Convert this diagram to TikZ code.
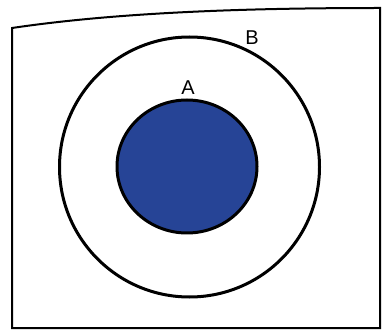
\documentclass[tikz,border=0pt]{standalone}
\usepackage{fontspec}
\setmainfont{Liberation Sans}
\usetikzlibrary{shapes.geometric}
\definecolor{setblue}{RGB}{38,68,150}
\tikzset{
  setline/.style={draw=black, line width=3pt, inner sep=0pt},
  lbl/.style={font=\fontsize{20}{20}\selectfont, inner sep=0pt}
}
\begin{document}
\begin{tikzpicture}[x=1pt,y=-1pt]
\useasboundingbox (0,0) rectangle (383,331);
\fill[white] (0,0) rectangle (383,331);
% universe rectangle (slightly skewed top edge as photographed)
\draw[line width=2pt, line join=miter]
  (12,328) -- (12,28) .. controls (120,12) and (250,8) .. (380,8) -- (380,328) -- cycle;
\node[setline, circle, minimum size=260pt] (B) at (189.5,167) {};
\node[setline, ellipse, fill=setblue, minimum width=140pt, minimum height=133pt] (A) at (187,166.5) {};
\node[lbl] (lB) at (252,38) {B};
\node[lbl] (lA) at (188,88) {A};
\end{tikzpicture}
\end{document}
